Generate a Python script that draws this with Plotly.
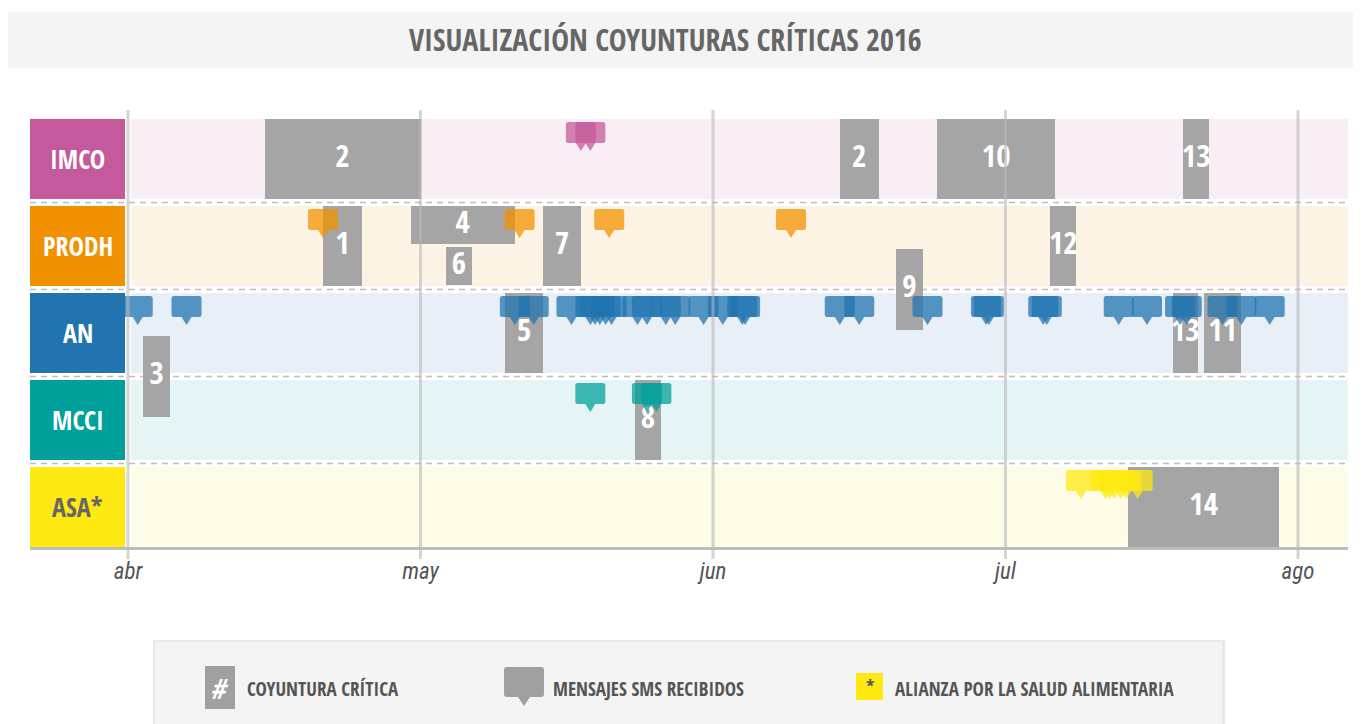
import calendar
import pandas as pd
import plotly.graph_objects as go

# ---------------- data ----------------
ORGS = ["IMCO", "PRODH", "AN", "MCCI", "ASA*"]
ORG_COLORS = ["#c45a9b", "#f29100", "#2274b0", "#00a19a", "#ffe912"]
ROW_BG = ["#f9eef4", "#fdf3e5", "#e8eff6", "#e5f5f5", "#fefbe6"]
ORG_TEXT = ["white", "white", "white", "white", "#666666"]

MONTH_LABELS = ["abr", "may", "jun", "jul", "ago"]
MONTH_VALUES = [0, 1, 2, 3, 4]

COY_LABELS = ["2", "2", "10", "13", "1", "4", "6", "7", "12", "9", "5", "13", "11", "3", "8", "14"]
COY_ORG = ["IMCO", "IMCO", "IMCO", "IMCO", "PRODH", "PRODH", "PRODH", "PRODH", "PRODH", "PRODH",
           "AN", "AN", "AN", "AN", "MCCI", "ASA*"]
COY_START = ["2016-04-15", "2016-06-14", "2016-06-24", "2016-07-19 20:00",
             "2016-04-21", "2016-04-30", "2016-05-03 17:00", "2016-05-14", "2016-07-05 18:00", "2016-06-19 19:00",
             "2016-05-10", "2016-07-18 17:00", "2016-07-22", "2016-04-02 14:00",
             "2016-05-23 17:00", "2016-07-14"]
COY_END = ["2016-05-01", "2016-06-18", "2016-07-06 06:00", "2016-07-22 14:00",
           "2016-04-25", "2016-05-11", "2016-05-06 11:00", "2016-05-18", "2016-07-08 12:00", "2016-06-22 12:00",
           "2016-05-14", "2016-07-21 10:00", "2016-07-26", "2016-04-05 07:00",
           "2016-05-26 12:00", "2016-07-30"]
COY_LANE = ["full", "full", "full", "full",
            "full", "top", "bottom", "full", "full", "down",
            "full", "full", "full", "down",
            "full", "full"]

SMS_IMCO = ["2016-05-18", "2016-05-19"]
SMS_PRODH = ["2016-04-21", "2016-05-11 12:00", "2016-05-21", "2016-06-09"]
SMS_AN = ["2016-04-02", "2016-04-07", "2016-05-11", "2016-05-13", "2016-05-17", "2016-05-19",
          "2016-05-19 12:00", "2016-05-20", "2016-05-20 15:00", "2016-05-21 06:00", "2016-05-24",
          "2016-05-25", "2016-05-27", "2016-05-28", "2016-05-31", "2016-06-02", "2016-06-04",
          "2016-06-04 07:00", "2016-06-14", "2016-06-16", "2016-06-23", "2016-06-29",
          "2016-06-29 07:00", "2016-07-05", "2016-07-05 09:00", "2016-07-13", "2016-07-16",
          "2016-07-19 12:00", "2016-07-20 05:00", "2016-07-24", "2016-07-26", "2016-07-29"]
SMS_MCCI = ["2016-05-19", "2016-05-25", "2016-05-26"]
SMS_ASA = ["2016-07-09", "2016-07-11 14:00", "2016-07-12", "2016-07-12 12:00",
           "2016-07-13 05:00", "2016-07-13 19:00", "2016-07-15"]
SMS_BY_ORG = [SMS_IMCO, SMS_PRODH, SMS_AN, SMS_MCCI, SMS_ASA]

TITLE = "VISUALIZACIÓN COYUNTURAS CRÍTICAS 2016"
LEGEND_TEXTS = ["COYUNTURA CRÍTICA", "MENSAJES SMS RECIBIDOS", "ALIANZA POR LA SALUD ALIMENTARIA"]

# ---------------- layout constants ----------------
OFF = 8                                # page body margin
W, H = 1361 - OFF, 724 - OFF
FONT = "'Open Sans Condensed', 'Roboto Condensed', sans-serif"
TICK_FONT = "'Roboto Condensed', 'Open Sans Condensed', sans-serif"
X0_PX, MONTH_PX = 128.0 - OFF, 292.5   # pixel of first month tick, pixels per month
ROW0_PX, ROW_PX = 159.0 - OFF, 87.0    # pixel centre of first row, row pitch
ROW_HALF = 40.0 / ROW_PX
LANES = {"full": (0.0, 0.92), "top": (-0.24, 0.44), "bottom": (0.23, 0.44), "down": (0.5, 0.92)}
BAR_GRAY = "#a5a5a5"


def px(x):
    return (x - OFF) / W


def py(y):
    return 1 - (y - OFF) / H


def mpos(s):
    t = pd.Timestamp(s)
    days = calendar.monthrange(t.year, t.month)[1]
    return (t.month - 4) + (t.day - 1 + t.hour / 24 + t.minute / 1440) / days


def bubble_path(w=15, top=37, bot=16, tip=8, pw=5, r=2.5):
    return (f"M {-w + r},{top} L {w - r},{top} Q {w},{top} {w},{top - r} L {w},{bot + r} "
            f"Q {w},{bot} {w - r},{bot} L {pw},{bot} L 0,{tip} L {-pw},{bot} L {-w + r},{bot} "
            f"Q {-w},{bot} {-w},{bot + r} L {-w},{top - r} Q {-w},{top} {-w + r},{top} Z")


row_of = {o: i for i, o in enumerate(ORGS)}

shapes = []
annotations = []

# title bar
shapes.append(dict(type="rect", xref="paper", yref="paper", x0=0, x1=1.0, y0=py(68), y1=py(12),
                   fillcolor="#f4f4f4", line=dict(width=0), layer="below"))
annotations.append(dict(text=TITLE, xref="paper", yref="paper", x=px(665), y=py(40), showarrow=False,
                        xanchor="center", yanchor="middle",
                        font=dict(family=FONT, size=30, color="#666666", weight="bold")))

# rows
for k, org in enumerate(ORGS):
    shapes.append(dict(type="rect", xref="paper", yref="y", x0=px(131), x1=px(1348),
                       y0=k - ROW_HALF, y1=k + ROW_HALF, fillcolor=ROW_BG[k], line=dict(width=0), layer="below"))
    shapes.append(dict(type="rect", xref="paper", yref="y", x0=px(30), x1=px(125),
                       y0=k - ROW_HALF, y1=k + ROW_HALF, fillcolor=ORG_COLORS[k], line=dict(width=0), layer="below"))
    annotations.append(dict(text=org, xref="paper", yref="y", x=px(77.5), y=k, showarrow=False,
                            xanchor="center", yanchor="middle",
                            font=dict(family=FONT, size=26, color=ORG_TEXT[k], weight="bold")))
    if k < len(ORGS) - 1:
        shapes.append(dict(type="line", xref="paper", yref="y", x0=px(30), x1=px(1348), y0=k + 0.5, y1=k + 0.5,
                           line=dict(color="#bdbdbd", width=1.5, dash="6px,5px"), layer="below"))

# bottom axis line
shapes.append(dict(type="line", xref="paper", yref="paper", x0=px(30), x1=px(1348), y0=py(548.5), y1=py(548.5),
                   line=dict(color="#bdbdbd", width=3), layer="below"))

# coyunturas (bar trace)
bar_y, bar_w, bar_base, bar_len, txt_x = [], [], [], [], []
for org, s, e, lane in zip(COY_ORG, COY_START, COY_END, COY_LANE):
    off, th = LANES[lane]
    bar_y.append(row_of[org] + off)
    bar_w.append(th)
    a, b = mpos(s), mpos(e)
    bar_base.append(a)
    bar_len.append(b - a)
    txt_x.append((a + b) / 2)

fig = go.Figure()
fig.add_trace(go.Bar(orientation="h", y=bar_y, x=bar_len, base=bar_base, width=bar_w,
                     marker=dict(color=BAR_GRAY, line=dict(width=0)), showlegend=False,
                     hoverinfo="skip"))
fig.add_trace(go.Scatter(x=txt_x, y=bar_y, mode="text", text=COY_LABELS, showlegend=False,
                         textfont=dict(family=FONT, size=31, color="white", weight="bold"),
                         hoverinfo="skip"))

# SMS bubbles
BPATH = bubble_path()
for k, dates in enumerate(SMS_BY_ORG):
    for d in dates:
        shapes.append(dict(type="path", xref="x", yref="y", xsizemode="pixel", ysizemode="pixel",
                           xanchor=mpos(d), yanchor=k, path=BPATH, fillcolor=ORG_COLORS[k],
                           opacity=0.75, line=dict(width=0), layer="above"))

# month gridlines (on top)
for v in MONTH_VALUES:
    shapes.append(dict(type="line", xref="x", yref="paper", x0=v, x1=v, y0=py(559), y1=py(110),
                       line=dict(color="rgba(185,185,185,0.6)", width=3), layer="above"))

# legend box
shapes.append(dict(type="rect", xref="paper", yref="paper", x0=px(153), x1=px(1225), y0=0, y1=py(640),
                   fillcolor="#e9e9e9", line=dict(width=0), layer="above"))
shapes.append(dict(type="rect", xref="paper", yref="paper", x0=px(155), x1=px(1222), y0=0, y1=py(642),
                   fillcolor="#f4f4f4", line=dict(width=0), layer="above"))
# item 1
shapes.append(dict(type="rect", xref="paper", yref="paper", x0=px(205), x1=px(235), y0=py(709), y1=py(666),
                   fillcolor="#a0a0a0", line=dict(width=0), layer="above"))
annotations.append(dict(text="#", xref="paper", yref="paper", x=px(220), y=py(688), showarrow=False,
                        xanchor="center", yanchor="middle",
                        font=dict(family=FONT, size=28, color="white", style="italic")))
# item 2
shapes.append(dict(type="path", xref="paper", yref="paper", xsizemode="pixel", ysizemode="pixel",
                   xanchor=px(524), yanchor=py(706),
                   path=bubble_path(w=20, top=39, bot=9, tip=0, pw=6, r=3),
                   fillcolor="#a0a0a0", line=dict(width=0), layer="above"))
# item 3
shapes.append(dict(type="rect", xref="paper", yref="paper", x0=px(856), x1=px(883), y0=py(700), y1=py(673),
                   fillcolor="#ffe912", line=dict(width=0), layer="above"))
annotations.append(dict(text="*", xref="paper", yref="paper", x=px(869.5), y=py(686), showarrow=False,
                        xanchor="center", yanchor="middle",
                        font=dict(family=FONT, size=18, color="#555555", weight="bold")))
for txt, x0 in zip(LEGEND_TEXTS, [245, 551, 893]):
    annotations.append(dict(text=txt, xref="paper", yref="paper", x=px(x0), y=py(689), showarrow=False,
                            xanchor="left", yanchor="middle",
                            font=dict(family=FONT, size=19, color="#555555", weight="bold")))

fig.update_layout(
    width=W, height=H, margin=dict(l=0, r=0, t=0, b=0),
    paper_bgcolor="white", plot_bgcolor="rgba(0,0,0,0)",
    xaxis=dict(range=[-X0_PX / MONTH_PX, (W - X0_PX) / MONTH_PX], anchor="free", position=py(555),
               tickvals=MONTH_VALUES, ticktext=MONTH_LABELS, showgrid=False, zeroline=False,
               showline=False, ticks="", fixedrange=True,
               tickfont=dict(family=TICK_FONT, size=23, color="#555555", style="italic", weight="normal")),
    yaxis=dict(range=[(H - ROW0_PX) / ROW_PX, -ROW0_PX / ROW_PX], visible=False, fixedrange=True),
    shapes=shapes, annotations=annotations, bargap=0,
)

fig.write_html("out.html")
